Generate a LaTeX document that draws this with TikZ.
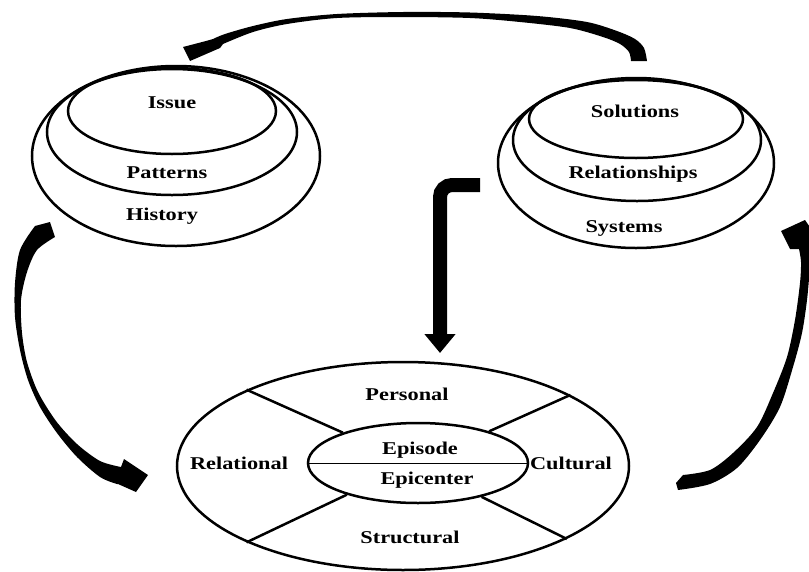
\documentclass[tikz,border=0pt]{standalone}
\usepackage{fontspec}
\setmainfont{Liberation Serif}[FakeStretch=1.24]
\usepackage{tikz}
\usetikzlibrary{shapes.geometric,arrows.meta}

\begin{document}
\begin{tikzpicture}[x=1pt,y=-1pt,
    ring/.style={draw,ellipse,line width=2.5pt,inner sep=0pt},
    lbl/.style={anchor=base,inner sep=0pt,font=\bfseries\fontsize{18}{20}\selectfont},
    spoke/.style={line width=2.5pt}]
  \clip (0,0) rectangle (809,571);
  % left stack
  \node[ring,minimum width=288pt,minimum height=180pt] (history) at (176,156) {};
  \node[ring,minimum width=250pt,minimum height=126pt] (patterns) at (172,132) {};
  \node[ring,minimum width=208pt,minimum height=86pt] (issue) at (172,111) {};
  \node[lbl] (tIssue) at (172,108) {Issue};
  \node[lbl] (tPatterns) at (167,178) {Patterns};
  \node[lbl] (tHistory) at (162,220) {History};
  % right stack
  \node[ring,minimum width=276pt,minimum height=170pt] (systems) at (636,163) {};
  \node[ring,minimum width=248pt,minimum height=122pt] (relationships) at (637,140) {};
  \node[ring,minimum width=214pt,minimum height=78pt] (solutions) at (636,119) {};
  \node[lbl] (tSolutions) at (635,117) {Solutions};
  \node[lbl] (tRelationships) at (633,178) {Relationships};
  \node[lbl] (tSystems) at (624,232) {Systems};
  % bottom wheel
  \node[ring,minimum width=452pt,minimum height=208pt] (spheres) at (403,466) {};
  \node[ring,minimum width=220pt,minimum height=80pt] (core) at (418,463) {};
  \draw[spoke] (spheres.154) -- (core.158);
  \draw[spoke] (spheres.23.5) -- (core.24.6);
  \draw[spoke] (spheres.206.3) -- (core.204.9);
  \draw[spoke] (spheres.336.5) -- (core.332.4);
  \draw[line width=1pt] (core.west) -- (core.east);
  \node[lbl] (tPersonal) at (407,400) {Personal};
  \node[lbl] (tRelational) at (239,469) {Relational};
  \node[lbl] (tCultural) at (571,469) {Cultural};
  \node[lbl] (tStructural) at (410,543) {Structural};
  \node[lbl] (tEpisode) at (420,454) {Episode};
  \node[lbl] (tEpicenter) at (427,484) {Epicenter};
  % arrows
  \fill plot[smooth] coordinates {(647,61) (644,48) (635,39) (617,31) (587,22) (537,16) (470,12.5) (403,12) (337,14) (287,19) (253,26) (225,34) (213,39)}
    -- (206,41) -- (183,47) -- (190,61) -- (220,48)
    -- plot[smooth] coordinates {(223,44) (253,32) (287,24) (337,18) (403,17) (470,18) (520,22) (570,28) (603,37) (620,44) (629,52) (631,61)} -- cycle;
  \fill plot[smooth] coordinates {(55,237) (37,250) (27,272) (21,300) (22,333) (27,362) (38,392) (56,421) (77,444) (100,461) (121,467)}
    -- (124,459) -- (148,475) -- (136,492) -- (118,484)
    -- plot[smooth] coordinates {(117,484) (100,477) (77,457) (57,433) (40,407) (28,380) (20,350) (15,317) (15,283) (20,250) (35,226)}
    -- (50,222) -- cycle;
  \fill plot[smooth] coordinates {(683,475) (710,470) (733,453) (757,427) (773,393) (787,357) (795,320) (800,283) (801,262) (799,249)}
    -- (790,249) -- (781,231) -- (805,220) -- (816,236)
    -- plot[smooth] coordinates {(812,245) (810,267) (807,300) (802,333) (793,367) (780,407) (760,440) (737,468) (710,484) (678,490)}
    -- (676,483) -- cycle;
  \coordinate (hookS) at (480,185);
  \coordinate (hookT) at (440,353);
  \draw[line width=14pt,rounded corners=12pt,-{Triangle[width=30pt,length=19pt]}] (hookS) -- (440,185) -- (hookT);
\end{tikzpicture}
\end{document}
